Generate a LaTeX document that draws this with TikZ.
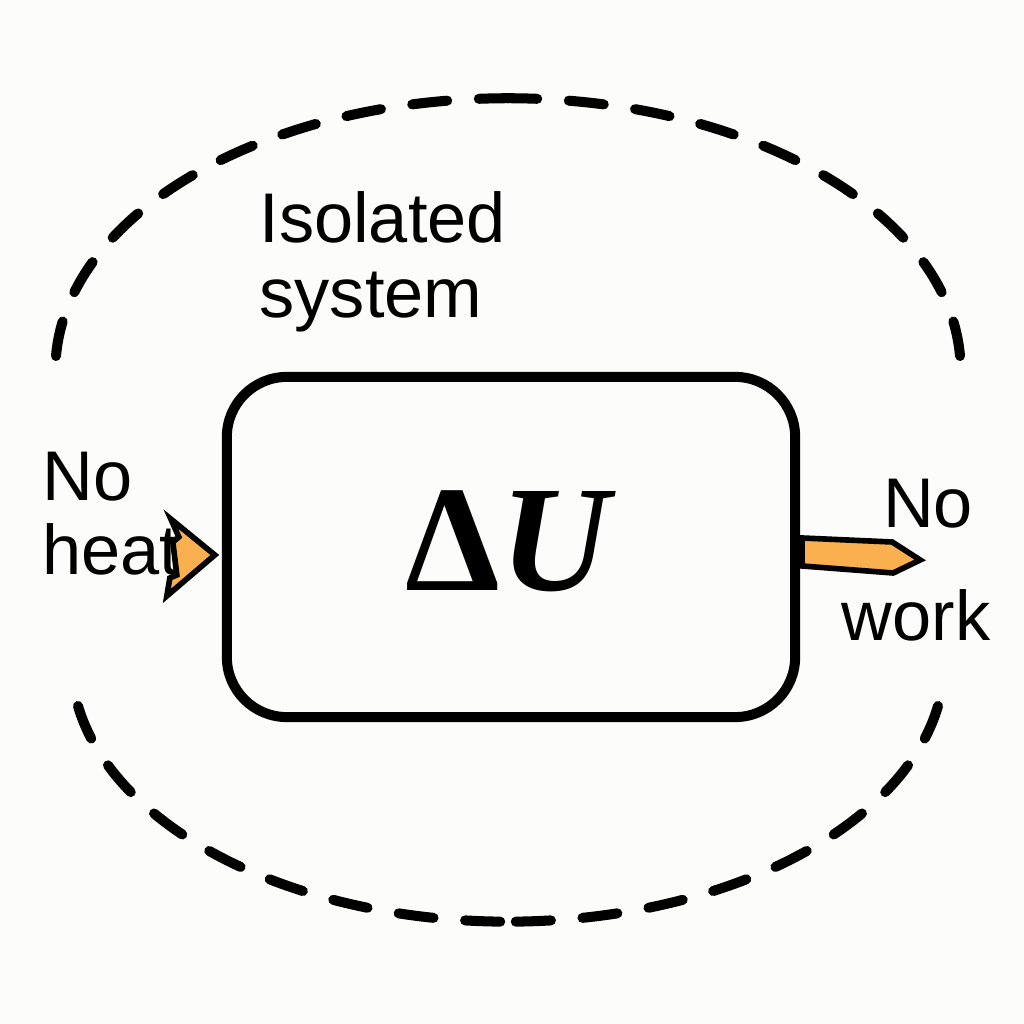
\documentclass[tikz,border=0pt]{standalone}
\usepackage{fontspec}
\setsansfont{Liberation Sans}
\newfontfamily\deltafont{Liberation Serif}
\usetikzlibrary{positioning, calc}
\definecolor{heatorange}{RGB}{250,176,78}
\definecolor{paper}{RGB}{252,252,250}
\tikzset{
  sysbox/.style={
	draw, % the closed system itself
	line width=2.85pt,
	rounded corners=0.6cm,
	minimum width=5.68cm, minimum height=3.4cm,
	inner sep=0pt,
  },
  boundary/.style={
	line width=2.85pt, line cap=round,
	dash pattern=on 10pt off 9pt, % long dashes of the isolating wall
  },
  lbl/.style={
	font=\sffamily\fontsize{20}{21.3}\selectfont,
	inner sep=0pt, align=left,
  },
  flow/.style={
	draw, fill=heatorange, line width=1.6pt, line join=miter, % orange in/out arrows
  },
}
\begin{document}
\begin{tikzpicture}[x=0.01cm, y=0.01cm]
	\fill[paper] (0,0) rectangle (1024,1024);
	\useasboundingbox (0,0) rectangle (1024,1024);

	\node[sysbox] (box) at (511,477) {};
	\node[font=\deltafont\bfseries\fontsize{43}{48}\selectfont, inner sep=0pt, yshift=1.7pt] (dU) at (box.center) {Δ\textit{U}};

	\node[lbl, anchor=north west] (iso) at ($(box.north west)+(37,181)$) {Isolated\\system};
	\node[lbl, anchor=north west] (heat) at ($(box.west)+(-180,96)$) {No\\heat};
	\node[lbl, anchor=north, align=center] (work) at ($(box.east)+(116,69)$) {\hspace*{6.8pt}No\\[11pt]work};

	\coordinate (wallTopR) at ($(box.center)+(449,191)$);
	\coordinate (wallTopL) at ($(box.center)+(-455,191)$);
	\coordinate (wallBotL) at ($(box.center)+(-433,-159)$);
	\coordinate (wallBotR) at ($(box.center)+(427,-159)$);
	\draw[boundary] (wallTopR) arc[start angle=3, end angle=90, x radius=453, y radius=272];
	\draw[boundary] (wallTopL) arc[start angle=177, end angle=90, x radius=453, y radius=272];
	\draw[boundary] (wallBotL) arc[start angle=190, end angle=270, x radius=437, y radius=261];
	\draw[boundary] (wallBotR) arc[start angle=350, end angle=270, x radius=437, y radius=261];

	\draw[flow] ($(box.west)+(-7,-8)$) coordinate (heatTip) -- ++(-44,36) -- ++(8,-18) -- ++(-6,-5) -- ++(4,-33) -- ++(-7,-3) -- ++(-3,-18) -- cycle;
	\draw[flow] ($(box.east)+(2,9)$) coordinate (workTail) -- ++(90,-4) -- ++(28,-18) -- ++(-27,-13) -- ++(-91,7) -- cycle;
\end{tikzpicture}
\end{document}
